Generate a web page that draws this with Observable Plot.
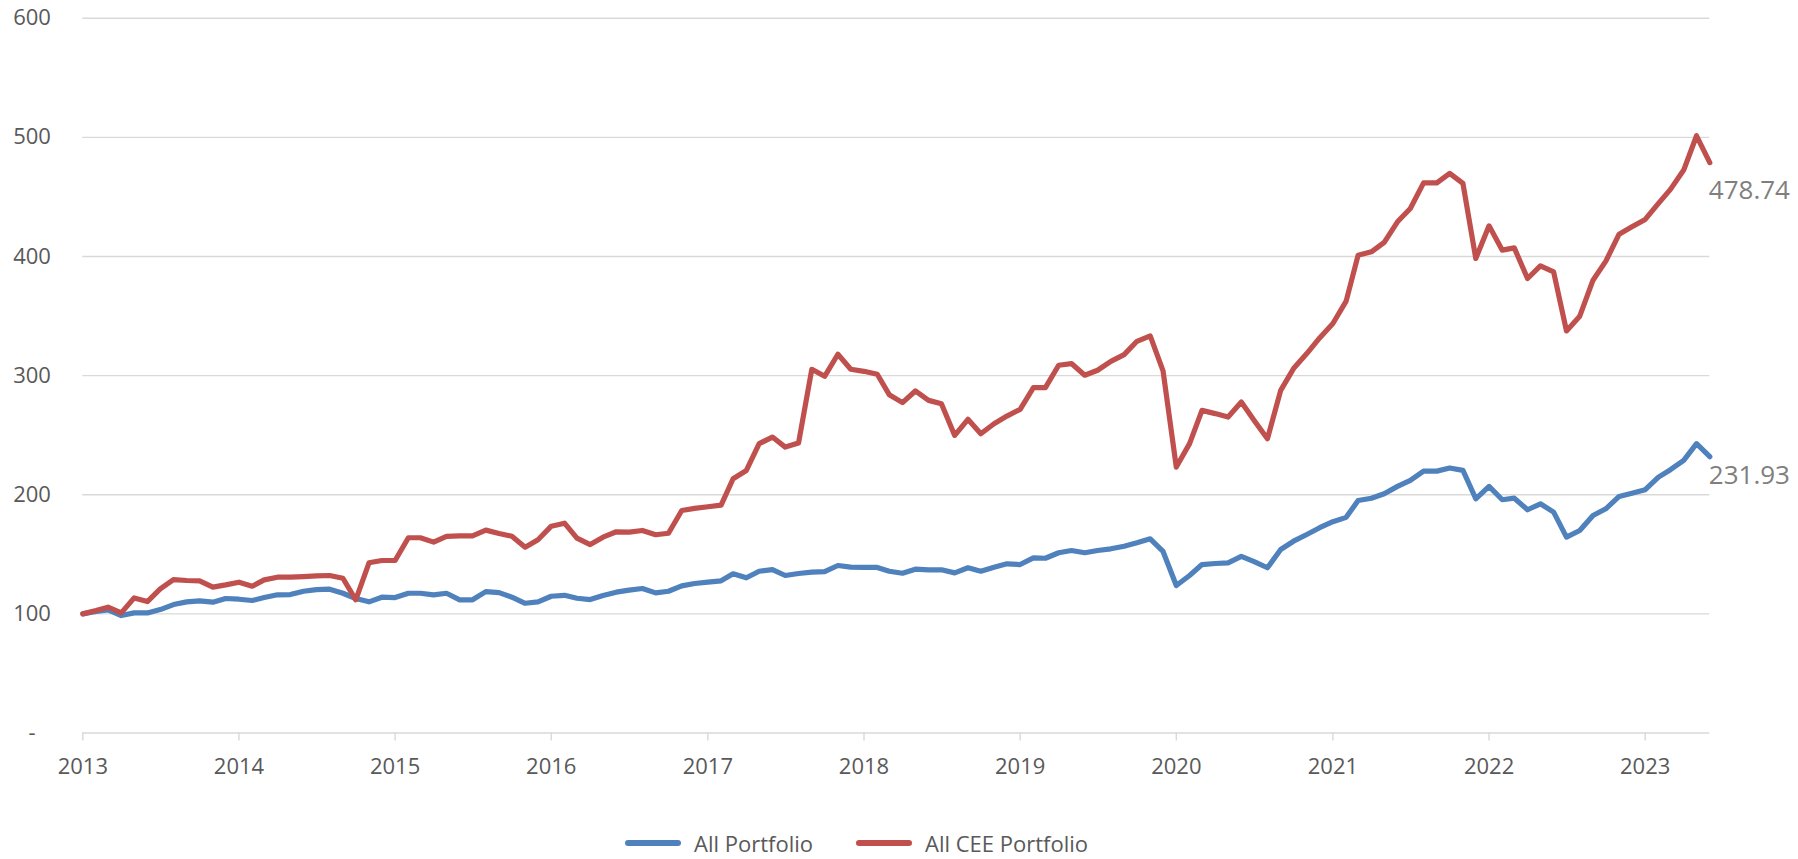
<!DOCTYPE html>
<html>
<head>
<meta charset="utf-8">
<script src="https://cdn.jsdelivr.net/npm/d3@7"></script>
<script src="https://cdn.jsdelivr.net/npm/@observablehq/plot@0.6"></script>
<style>
  html, body { margin: 0; padding: 0; background: #fff; overflow: hidden; }
  #wrap { position: relative; width: 1798px; height: 859px; font-family: "Open Sans", sans-serif; }
  #legend { position: absolute; left: 625px; top: 832px; height: 22px; line-height: 22px; display: flex; align-items: center; font-size: 22px; color: #595959; }
  .item { display: flex; align-items: center; margin-right: 43px; height: 22px; }
  .sw { width: 56px; height: 6px; border-radius: 3px; margin-right: 13px; }
</style>
</head>
<body>
<div id="wrap"><div id="chart"></div><div id="legend"></div></div>
<script>
const seriesNames = ["All Portfolio", "All CEE Portfolio"];
const seriesColors = ["#4f81bd", "#c0504d"];
const startMonth = "2013-01-01";
const endMonth = "2023-06-01";
const yTicks = [0, 100, 200, 300, 400, 500, 600];

const allPortfolio = [
  100, 102, 103.4, 98.6, 100.8, 100.8, 103.6, 107.8, 110.1, 110.9, 109.8, 112.9,
  112.3, 111.2, 113.7, 116, 116.2, 119, 120.4, 120.7, 117.3, 112.9, 110.1, 114,
  113.7, 117.3, 117.3, 116, 117.3, 111.8, 111.8, 118.7, 117.8, 114, 108.9, 110.1,
  114.8, 115.6, 113.1, 112, 115.4, 118.2, 119.9, 121.3, 117.6, 119, 123.5, 125.5,
  126.6, 127.7, 133.6, 130.3, 135.8, 137.2, 132.2, 133.9, 135, 135.5, 140.6, 139.2,
  139, 139, 135.8, 134.1, 137.5, 137, 137, 134.4, 138.7, 135.8, 139.2, 142,
  141.4, 147, 146.7, 151.3, 153.2, 151.3, 153.2, 154.6, 156.8, 159.7, 163, 152.4,
  123.8, 132.2, 141.4, 142.3, 142.8, 148.2, 143.9, 138.7, 154, 161, 166.6, 172.3,
  177.4, 181, 195.2, 197.1, 200.8, 207, 212, 219.8, 219.8, 222.4, 220.4, 196.6,
  207, 195.8, 197.1, 187.4, 192.4, 185.4, 164.4, 170, 182.6, 188.2, 198.6, 201.3,
  204.2, 214.8, 221, 228.8, 242.9, 231.93
];
const allCeePortfolio = [
  100, 102.8, 105.6, 100.8, 113.4, 110.3, 121, 128.8, 128, 127.7, 122.4, 124.3,
  126.6, 123.2, 128.5, 130.8, 130.8, 131.3, 131.9, 132.2, 129.9, 111.8, 142.9, 144.8,
  144.8, 163.9, 163.9, 160.2, 165, 165.5, 165.5, 170.3, 167.5, 165.2, 156, 162.2,
  173.6, 176.1, 163.5, 158.2, 164.4, 168.9, 168.6, 170, 166.4, 167.7, 186.8, 188.5,
  189.9, 191.3, 213.4, 220.4, 242.9, 248.4, 240, 243.4, 305.3, 299.4, 317.9, 305.3,
  303.6, 301.1, 284, 277.3, 287.1, 279.2, 276.4, 249.8, 263.3, 251.2, 259.6, 266,
  271.7, 289.9, 289.9, 308.7, 310.1, 300.3, 304.5, 312, 317.6, 328.8, 333.3, 303.9,
  223.2, 242.9, 270.8, 268.1, 265.2, 277.8, 262.4, 247, 287.6, 305.9, 318.5, 331.6,
  343.7, 362.5, 401.1, 403.9, 411.8, 429.1, 440.3, 461.8, 461.8, 469.7, 461.3, 398.3,
  425.7, 405.3, 407.2, 381.5, 392.1, 387, 337.5, 349.9, 380.1, 396.1, 418.7, 424.9,
  431.1, 444.5, 456.3, 472.5, 501.3, 478.74
];

const months = d3.utcMonth.range(new Date(startMonth), d3.utcMonth.offset(new Date(endMonth), 1));
const blueData = months.map((d, i) => ({date: d, value: allPortfolio[i]}));
const redData = months.map((d, i) => ({date: d, value: allCeePortfolio[i]}));
const lastBlue = [blueData[blueData.length - 1]];
const lastRed = [redData[redData.length - 1]];
const yearTicks = d3.utcYear.range(new Date("2013-01-01"), new Date("2023-06-02"));

const H = 806;
const chart = Plot.plot({
  width: 1798,
  height: H,
  marginLeft: 82.3,
  marginRight: 88.7,
  marginTop: 17.7,
  marginBottom: H - 732.5,
  style: {fontFamily: "Open Sans", fontSize: "22px", color: "#595959", background: "#fff", overflow: "visible"},
  x: {type: "utc", domain: [new Date(startMonth), new Date(endMonth)]},
  y: {domain: [0, 600]},
  marks: [
    Plot.ruleY(yTicks, {stroke: "#d9d9d9", strokeWidth: 1.4}),
    Plot.axisY({ticks: yTicks, tickSize: 0, tickPadding: 50.8, textAnchor: "middle",
      tickFormat: d => d === 0 ? "-" : d3.format("d")(d), fill: "#595959", label: null}),
    Plot.axisX({ticks: yearTicks, tickSize: 8, tickPadding: 17.8, stroke: "#d9d9d9", strokeWidth: 1.4,
      tickFormat: d3.utcFormat("%Y"), fill: "#595959", label: null}),
    Plot.line(blueData, {x: "date", y: "value", stroke: seriesColors[0], strokeWidth: 5.2, strokeLinejoin: "round", strokeLinecap: "round"}),
    Plot.line(redData, {x: "date", y: "value", stroke: seriesColors[1], strokeWidth: 5.2, strokeLinejoin: "round", strokeLinecap: "round"}),
    Plot.text(lastRed, {x: "date", y: "value", text: d => d3.format(".2f")(d.value), textAnchor: "start", dx: -1, dy: 28, fontSize: 26, fill: "#7f7f7f"}),
    Plot.text(lastBlue, {x: "date", y: "value", text: d => d3.format(".2f")(d.value), textAnchor: "start", dx: -1, dy: 19, fontSize: 26, fill: "#7f7f7f"})
  ]
});
document.getElementById("chart").appendChild(chart);

const legend = document.getElementById("legend");
seriesNames.forEach((name, i) => {
  const item = document.createElement("div");
  item.className = "item";
  const sw = document.createElement("div");
  sw.className = "sw";
  sw.style.background = seriesColors[i];
  const label = document.createElement("span");
  label.textContent = name;
  item.appendChild(sw);
  item.appendChild(label);
  legend.appendChild(item);
});
</script>
</body>
</html>
